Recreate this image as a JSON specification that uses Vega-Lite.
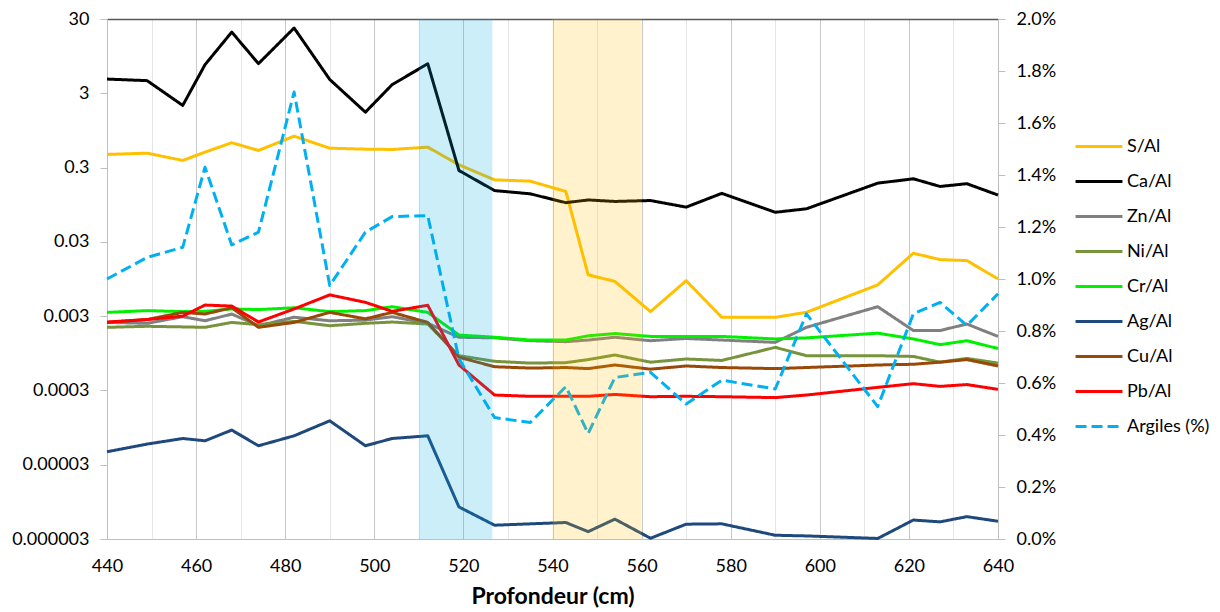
{
  "$schema": "https://vega.github.io/schema/vega-lite/v6.json",
  "width": 891,
  "height": 520,
  "autosize": {"type": "none"},
  "padding": {"left": 107, "top": 19, "right": 222, "bottom": 73},
  "background": "white",
  "config": {
    "font": "Lato",
    "view": {"stroke": null},
    "axis": {"labelFont": "Lato", "labelFontSize": 18, "labelColor": "#000000", "titleFont": "Lato", "titleColor": "#000000"}
  },
  "data": {
    "values": [
      {"depth": 440, "S/Al": 0.451, "Ca/Al": 4.66, "Zn/Al": 0.00247, "Ni/Al": 0.00212, "Cr/Al": 0.00337, "Ag/Al": 0.0000448, "Cu/Al": 0.00247, "Pb/Al": 0.0025, "Argiles (%)": 1.0},
      {"depth": 449, "S/Al": 0.469, "Ca/Al": 4.44, "Zn/Al": 0.0024, "Ni/Al": 0.00219, "Cr/Al": 0.00356, "Ag/Al": 0.0000569, "Cu/Al": 0.0027, "Pb/Al": 0.0027, "Argiles (%)": 1.083},
      {"depth": 457, "S/Al": 0.374, "Ca/Al": 2.06, "Zn/Al": 0.00295, "Ni/Al": 0.00215, "Cr/Al": 0.00345, "Ag/Al": 0.0000676, "Cu/Al": 0.00337, "Pb/Al": 0.003, "Argiles (%)": 1.122},
      {"depth": 462, "S/Al": 0.484, "Ca/Al": 7.28, "Zn/Al": 0.0026, "Ni/Al": 0.00212, "Cr/Al": 0.00348, "Ag/Al": 0.000063, "Cu/Al": 0.0032, "Pb/Al": 0.00423, "Argiles (%)": 1.43},
      {"depth": 468, "S/Al": 0.648, "Ca/Al": 20.0, "Zn/Al": 0.0032, "Ni/Al": 0.00247, "Cr/Al": 0.00375, "Ag/Al": 0.0000877, "Cu/Al": 0.0039, "Pb/Al": 0.0041, "Argiles (%)": 1.131},
      {"depth": 474, "S/Al": 0.51, "Ca/Al": 7.52, "Zn/Al": 0.00223, "Ni/Al": 0.0023, "Cr/Al": 0.00368, "Ag/Al": 0.000054, "Cu/Al": 0.00212, "Pb/Al": 0.0025, "Argiles (%)": 1.18},
      {"depth": 482, "S/Al": 0.795, "Ca/Al": 22.7, "Zn/Al": 0.0029, "Ni/Al": 0.00255, "Cr/Al": 0.00389, "Ag/Al": 0.0000735, "Cu/Al": 0.00247, "Pb/Al": 0.00375, "Argiles (%)": 1.719},
      {"depth": 490, "S/Al": 0.547, "Ca/Al": 4.6, "Zn/Al": 0.0026, "Ni/Al": 0.00223, "Cr/Al": 0.00345, "Ag/Al": 0.000117, "Cu/Al": 0.00337, "Pb/Al": 0.0058, "Argiles (%)": 0.975},
      {"depth": 498, "S/Al": 0.531, "Ca/Al": 1.67, "Zn/Al": 0.00265, "Ni/Al": 0.0024, "Cr/Al": 0.00356, "Ag/Al": 0.000054, "Cu/Al": 0.00276, "Pb/Al": 0.0046, "Argiles (%)": 1.18},
      {"depth": 504, "S/Al": 0.526, "Ca/Al": 3.92, "Zn/Al": 0.00295, "Ni/Al": 0.0025, "Cr/Al": 0.00402, "Ag/Al": 0.0000676, "Cu/Al": 0.00337, "Pb/Al": 0.00348, "Argiles (%)": 1.24},
      {"depth": 512, "S/Al": 0.565, "Ca/Al": 7.5, "Zn/Al": 0.0024, "Ni/Al": 0.00235, "Cr/Al": 0.00337, "Ag/Al": 0.0000735, "Cu/Al": 0.00247, "Pb/Al": 0.0042, "Argiles (%)": 1.244},
      {"depth": 519, "S/Al": 0.327, "Ca/Al": 0.274, "Zn/Al": 0.00156, "Ni/Al": 0.00088, "Cr/Al": 0.00167, "Ag/Al": 0.0000081, "Cu/Al": 0.00084, "Pb/Al": 0.00066, "Argiles (%)": 0.693},
      {"depth": 527, "S/Al": 0.205, "Ca/Al": 0.147, "Zn/Al": 0.00153, "Ni/Al": 0.00074, "Cr/Al": 0.00156, "Ag/Al": 0.0000046, "Cu/Al": 0.000625, "Pb/Al": 0.00026, "Argiles (%)": 0.467},
      {"depth": 535, "S/Al": 0.197, "Ca/Al": 0.133, "Zn/Al": 0.0014, "Ni/Al": 0.0007, "Cr/Al": 0.00143, "Ag/Al": 0.0000048, "Cu/Al": 0.0006, "Pb/Al": 0.00025, "Argiles (%)": 0.448},
      {"depth": 543, "S/Al": 0.143, "Ca/Al": 0.101, "Zn/Al": 0.00136, "Ni/Al": 0.00071, "Cr/Al": 0.00143, "Ag/Al": 0.000005, "Cu/Al": 0.00061, "Pb/Al": 0.00025, "Argiles (%)": 0.586},
      {"depth": 548, "S/Al": 0.0108, "Ca/Al": 0.11, "Zn/Al": 0.00143, "Ni/Al": 0.00078, "Cr/Al": 0.00163, "Ag/Al": 0.00000377, "Cu/Al": 0.00059, "Pb/Al": 0.00025, "Argiles (%)": 0.406},
      {"depth": 554, "S/Al": 0.0088, "Ca/Al": 0.105, "Zn/Al": 0.00156, "Ni/Al": 0.0009, "Cr/Al": 0.00175, "Ag/Al": 0.00000555, "Cu/Al": 0.00066, "Pb/Al": 0.000265, "Argiles (%)": 0.621},
      {"depth": 562, "S/Al": 0.00345, "Ca/Al": 0.108, "Zn/Al": 0.0014, "Ni/Al": 0.00072, "Cr/Al": 0.0016, "Ag/Al": 0.00000307, "Cu/Al": 0.00058, "Pb/Al": 0.000247, "Argiles (%)": 0.641},
      {"depth": 570, "S/Al": 0.009, "Ca/Al": 0.088, "Zn/Al": 0.0015, "Ni/Al": 0.000795, "Cr/Al": 0.0016, "Ag/Al": 0.00000475, "Cu/Al": 0.00064, "Pb/Al": 0.00025, "Argiles (%)": 0.519},
      {"depth": 578, "S/Al": 0.00289, "Ca/Al": 0.135, "Zn/Al": 0.00143, "Ni/Al": 0.00076, "Cr/Al": 0.0016, "Ag/Al": 0.0000048, "Cu/Al": 0.00061, "Pb/Al": 0.000247, "Argiles (%)": 0.611},
      {"depth": 590, "S/Al": 0.00289, "Ca/Al": 0.075, "Zn/Al": 0.00133, "Ni/Al": 0.00114, "Cr/Al": 0.00148, "Ag/Al": 0.00000337, "Cu/Al": 0.00059, "Pb/Al": 0.00024, "Argiles (%)": 0.577},
      {"depth": 597, "S/Al": 0.00338, "Ca/Al": 0.0836, "Zn/Al": 0.00212, "Ni/Al": 0.00088, "Cr/Al": 0.00153, "Ag/Al": 0.0000033, "Cu/Al": 0.00061, "Pb/Al": 0.00026, "Argiles (%)": 0.866},
      {"depth": 613, "S/Al": 0.0079, "Ca/Al": 0.185, "Zn/Al": 0.00402, "Ni/Al": 0.00088, "Cr/Al": 0.00177, "Ag/Al": 0.00000305, "Cu/Al": 0.00066, "Pb/Al": 0.00033, "Argiles (%)": 0.509},
      {"depth": 621, "S/Al": 0.0211, "Ca/Al": 0.212, "Zn/Al": 0.00192, "Ni/Al": 0.00086, "Cr/Al": 0.00148, "Ag/Al": 0.0000054, "Cu/Al": 0.000675, "Pb/Al": 0.00037, "Argiles (%)": 0.866},
      {"depth": 627, "S/Al": 0.0173, "Ca/Al": 0.167, "Zn/Al": 0.00192, "Ni/Al": 0.00072, "Cr/Al": 0.00124, "Ag/Al": 0.0000051, "Cu/Al": 0.00072, "Pb/Al": 0.00034, "Argiles (%)": 0.91},
      {"depth": 633, "S/Al": 0.0168, "Ca/Al": 0.182, "Zn/Al": 0.00235, "Ni/Al": 0.00081, "Cr/Al": 0.0014, "Ag/Al": 0.000006, "Cu/Al": 0.00078, "Pb/Al": 0.00036, "Argiles (%)": 0.821},
      {"depth": 640, "S/Al": 0.0095, "Ca/Al": 0.128, "Zn/Al": 0.0016, "Ni/Al": 0.0007, "Cr/Al": 0.0011, "Ag/Al": 0.0000052, "Cu/Al": 0.00064, "Pb/Al": 0.00031, "Argiles (%)": 0.943}
    ]
  },
  "layer": [
    {
      "transform": [{"fold": ["S/Al", "Ca/Al", "Zn/Al", "Ni/Al", "Cr/Al", "Ag/Al", "Cu/Al", "Pb/Al"], "as": ["serie", "v"]}],
      "mark": {"type": "line", "strokeWidth": 3, "strokeJoin": "round"},
      "encoding": {
        "x": {
          "field": "depth", "type": "quantitative",
          "scale": {"domain": [440, 640], "nice": false, "zero": false},
          "axis": {
            "orient": "bottom",
            "values": [440, 450, 460, 470, 480, 490, 500, 510, 520, 530, 540, 550, 560, 570, 580, 590, 600, 610, 620, 630, 640],
            "labelExpr": "datum.value % 20 === 0 ? datum.label : ''",
            "labelFlush": false,
            "labelOverlap": false,
            "grid": true,
            "gridColor": {"condition": {"test": "datum.value % 20 === 0", "value": "#C8C8C8"}, "value": "#E6E6E6"},
            "ticks": false,
            "domainColor": "#BFBFBF",
            "labelPadding": 18,
            "title": "Profondeur (cm)",
            "titleFontSize": 23,
            "titleFontWeight": "bold",
            "titlePadding": 10
          }
        },
        "y": {
          "field": "v", "type": "quantitative",
          "scale": {"type": "log", "domain": [0.000003, 30], "nice": false},
          "axis": {
            "orient": "left",
            "values": [0.000003, 0.00003, 0.0003, 0.003, 0.03, 0.3, 3, 30],
            "format": ".6~f",
            "grid": false,
            "tickSize": 7,
            "tickColor": "#BFBFBF",
            "domainColor": "#BFBFBF",
            "labelPadding": 11,
            "title": null
          }
        },
        "color": {
          "field": "serie", "type": "nominal",
          "scale": {
            "domain": ["S/Al", "Ca/Al", "Zn/Al", "Ni/Al", "Cr/Al", "Ag/Al", "Cu/Al", "Pb/Al", "Argiles (%)"],
            "range": ["#FFC000", "#000000", "#808080", "#77933C", "#00F000", "#1F497D", "#984807", "#FF0000", "#00B0F0"]
          },
          "legend": {"title": null, "orient": "none", "legendX": 967, "legendY": 110, "symbolType": "stroke", "symbolSize": 2200, "symbolStrokeWidth": 3, "labelFontSize": 18, "labelFont": "Lato", "labelColor": "#000000", "clipHeight": 35, "rowPadding": 0, "labelOffset": 3, "padding": 0}
        },
        "strokeDash": {
          "field": "serie", "type": "nominal",
          "scale": {
            "domain": ["S/Al", "Ca/Al", "Zn/Al", "Ni/Al", "Cr/Al", "Ag/Al", "Cu/Al", "Pb/Al", "Argiles (%)"],
            "range": [[1, 0], [1, 0], [1, 0], [1, 0], [1, 0], [1, 0], [1, 0], [1, 0], [11, 5]]
          },
          "legend": {"title": null, "orient": "none", "legendX": 967, "legendY": 110, "symbolType": "stroke", "symbolSize": 2200, "symbolStrokeWidth": 3, "labelFontSize": 18, "labelFont": "Lato", "labelColor": "#000000", "clipHeight": 35, "rowPadding": 0, "labelOffset": 3, "padding": 0}
        }
      }
    },
    {
      "transform": [{"fold": ["Argiles (%)"], "as": ["serie", "v"]}],
      "mark": {"type": "line", "strokeWidth": 3, "strokeJoin": "round"},
      "encoding": {
        "x": {"field": "depth", "type": "quantitative", "scale": {"domain": [440, 640], "nice": false, "zero": false}, "axis": null},
        "y": {
          "field": "v", "type": "quantitative",
          "scale": {"domain": [0, 2], "nice": false, "zero": true},
          "axis": {
            "orient": "right",
            "values": [0, 0.2, 0.4, 0.6, 0.8, 1.0, 1.2, 1.4, 1.6, 1.8, 2.0],
            "labelExpr": "format(datum.value, '.1f') + '%'",
            "grid": false,
            "tickSize": 7,
            "tickColor": "#BFBFBF",
            "domainColor": "#BFBFBF",
            "labelPadding": 11,
            "title": null
          }
        },
        "color": {
          "field": "serie", "type": "nominal",
          "scale": {
            "domain": ["S/Al", "Ca/Al", "Zn/Al", "Ni/Al", "Cr/Al", "Ag/Al", "Cu/Al", "Pb/Al", "Argiles (%)"],
            "range": ["#FFC000", "#000000", "#808080", "#77933C", "#00F000", "#1F497D", "#984807", "#FF0000", "#00B0F0"]
          },
          "legend": {"title": null, "orient": "none", "legendX": 967, "legendY": 110, "symbolType": "stroke", "symbolSize": 2200, "symbolStrokeWidth": 3, "labelFontSize": 18, "labelFont": "Lato", "labelColor": "#000000", "clipHeight": 35, "rowPadding": 0, "labelOffset": 3, "padding": 0}
        },
        "strokeDash": {
          "field": "serie", "type": "nominal",
          "scale": {
            "domain": ["S/Al", "Ca/Al", "Zn/Al", "Ni/Al", "Cr/Al", "Ag/Al", "Cu/Al", "Pb/Al", "Argiles (%)"],
            "range": [[1, 0], [1, 0], [1, 0], [1, 0], [1, 0], [1, 0], [1, 0], [1, 0], [11, 5]]
          },
          "legend": {"title": null, "orient": "none", "legendX": 967, "legendY": 110, "symbolType": "stroke", "symbolSize": 2200, "symbolStrokeWidth": 3, "labelFontSize": 18, "labelFont": "Lato", "labelColor": "#000000", "clipHeight": 35, "rowPadding": 0, "labelOffset": 3, "padding": 0}
        }
      }
    },
    {
      "data": {"values": [{"from": 510, "to": 526.5, "zone": "bleue"}, {"from": 540, "to": 560, "zone": "orange"}]},
      "mark": {"type": "rect", "opacity": 0.2},
      "encoding": {
        "x": {
          "field": "from", "type": "quantitative",
          "scale": {"domain": [440, 640], "nice": false, "zero": false},
          "axis": {"orient": "top", "labels": false, "ticks": false, "grid": false, "domainColor": "#595959", "domainWidth": 1.5, "title": null}
        },
        "x2": {"field": "to"},
        "fill": {"field": "zone", "type": "nominal", "scale": {"domain": ["bleue", "orange"], "range": ["#00A8E0", "#FFC000"]}, "legend": null}
      }
    }
  ],
  "resolve": {"scale": {"y": "independent"}}
}
